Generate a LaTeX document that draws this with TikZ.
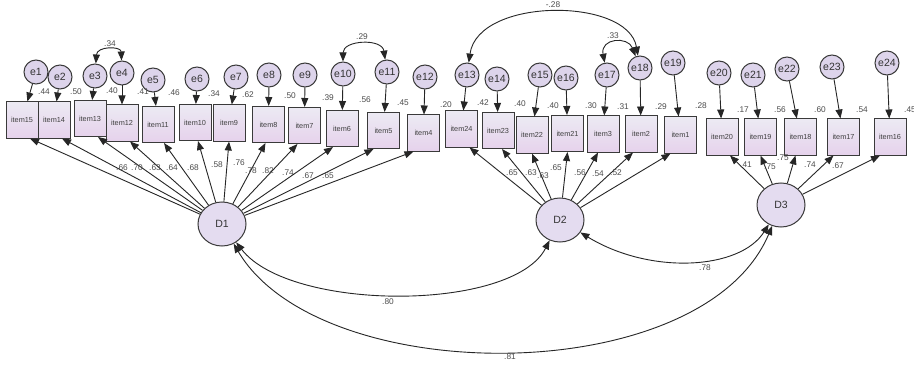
\documentclass[tikz,border=0pt]{standalone}
\usepackage{fontspec}
\setmainfont{Liberation Sans}
\usetikzlibrary{arrows.meta,shapes.geometric,calc}
\definecolor{boxtop}{HTML}{ECEAF3}
\definecolor{boxbot}{HTML}{E6D2EC}
\definecolor{latfill}{HTML}{E4DCF0}
\definecolor{errfill}{HTML}{DDD4EB}
\definecolor{edge}{HTML}{3A3A3A}
\begin{document}
\begin{tikzpicture}[x=1pt,y=1pt,
  obs/.style={draw=edge,line width=1pt,minimum width=32pt,minimum height=36pt,inner sep=0pt,
    top color=boxtop,bottom color=boxbot,font=\fontsize{7.3}{8}\selectfont,text=black!75},
  err/.style={circle,draw=edge,line width=1pt,fill=errfill,minimum size=24pt,inner sep=0pt,
    font=\fontsize{10.5}{11}\selectfont,text=black!80},
  lat/.style={ellipse,draw=edge,line width=1pt,fill=latfill,minimum width=48pt,minimum height=44pt,
    inner sep=0pt,font=\fontsize{10.5}{12}\selectfont,text=black!80},
  arr/.style={draw=black!85,line width=0.9pt,-{Triangle[length=9pt,width=7pt]}},
  cov/.style={draw=black!85,line width=0.9pt,{Triangle[length=9pt,width=7pt]}-{Triangle[length=9pt,width=7pt]}},
  num/.style={font=\fontsize{8.3}{9}\selectfont,text=black!70,inner sep=0pt}
]
\useasboundingbox (0,0) rectangle (914,-369);
\fill[white] (0,0) rectangle (914,-369);

% observed variables
\foreach \n/\x/\y/\t in {1/22/120/item15,2/54/120/item14,3/90/118.5/item13,4/122/123/item12,
  5/158/124.5/item11,6/195/122.5/item10,7/229/123/item9,8/268.5/124.5/item8,9/304.5/125.5/item7,
  10/342/128.5/item6,11/383.5/130.5/item5,12/423.5/133/item4,13/461.5/129/item24,14/498/130.5/item23,
  15/532/135/item22,16/567.5/133.5/item21,17/603/134/item3,18/641/134/item2,19/680.5/135/item1,
  20/722/137/item20,21/760.5/137/item19,22/800.5/137/item18,23/843.5/137/item17,24/890/137/item16}
  \node[obs] (b\n) at (\x,-\y) {\t};

% error terms
\foreach \n/\x/\y in {1/36/72,2/60/77,3/95/76,4/122/73,5/153/80,6/197/79,7/236/77,8/269/75,
  9/305/75,10/343/74,11/387/72,12/425/77,13/467/75,14/497/79,15/540/75,16/566/78,17/607/75,
  18/640/68,19/673/63,20/719/73,21/753/75,22/787/69,23/832/67,24/887/63}
  \node[err] (e\n) at (\x,-\y) {e\n};

\foreach \n in {1,...,24} \draw[arr] (e\n) -- (b\n);

% latent variables
\node[lat] (D1) at (222,-224) {D1};
\node[lat] (D2) at (560,-220) {D2};
\node[lat] (D3) at (781,-205) {D3};

% loadings
\foreach \n/\o in {1/8,2/8,3/8,4/8,5/6,6/3,7/0,8/-3,9/-7,10/-9,11/-10,12/-10}
  \draw[arr] (D1) -- ([xshift=\o pt]b\n.south);
\foreach \n/\o in {13/8,14/4,15/0,16/0,17/-5,18/-8,19/-10}
  \draw[arr] (D2) -- ([xshift=\o pt]b\n.south);
\foreach \n/\o in {20/8,21/0,22/-5,23/-10,24/-10}
  \draw[arr] (D3) -- ([xshift=\o pt]b\n.south);

% squared multiple correlations
\foreach \x/\y/\t [count=\i] in {44/92/.44,76/92/.50,112/91/.40,143/92/.41,174/93/.46,214/94/.34,
  248/95/.62,290/96/.50,328/98/.39,365/100/.56,403/103/.45,446/105/.20,483/103/.42,520/104/.40,
  553/106/.40,591/106/.30,623/107/.31,661/107/.29,701/106/.28,743/110/.17,780/110/.56,
  820/110/.60,862/110/.54,910/110/.45}
  \node[num] (r\i) at (\x,-\y) {\t};

% loading values
\foreach \x/\y/\t [count=\i] in {122/168/.66,137/168/.70,155/168/.63,172/168/.64,193/168/.68,
  217/165/.58,239/163/.76,251/171/.78,268/171/.82,288/173/.74,308/176/.67,328/176/.65,
  512/173/.65,531/173/.63,543/176/.63,556/168/.65,580/173/.56,598/174/.54,616/173/.52,
  746/165/.41,770/167/.75,783/158/.75,810/165/.74,838/166/.67}
  \node[num] (l\i) at (\x,-\y) {\t};

% error covariances
\draw[cov] (e3) .. controls (97,-46) and (121,-46) .. (e4);
\node[num] (c1) at (110,-44) {.34};
\draw[cov] (e10) .. controls (343,-40) and (382,-38) .. (e11);
\node[num] (c2) at (362,-37) {.29};
\draw[cov] (e13) .. controls (478,3) and (628,3) .. (e18);
\node[num] (c3) at (553,-5) {-.28};
\draw[cov] (e17) .. controls (600,-38) and (628,-36) .. (e18);
\node[num] (c4) at (613,-36) {.33};

% factor covariances
\draw[cov] (D1) .. controls (290,-312) and (513,-312) .. (D2);
\node[num] (c5) at (388,-302) {.80};
\draw[cov] (D1) .. controls (320,-390) and (703,-390) .. (D3);
\node[num] (c6) at (510,-357) {.81};
\draw[cov] (D2) .. controls (650,-275) and (740,-270) .. (D3);
\node[num] (c7) at (705,-268) {.78};
\end{tikzpicture}
\end{document}
